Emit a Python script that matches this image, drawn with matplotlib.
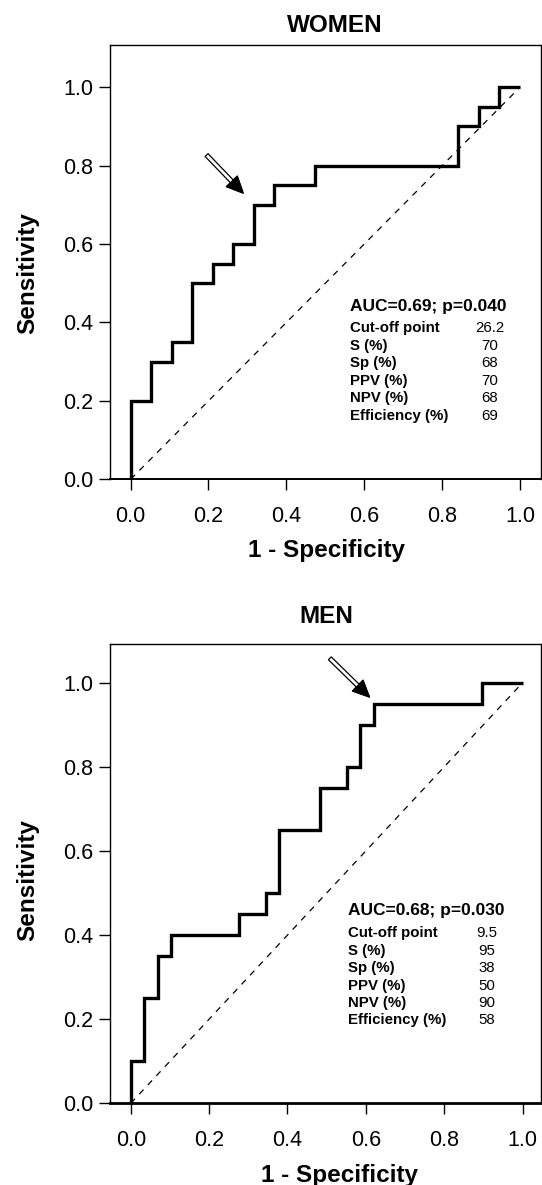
import matplotlib
matplotlib.use("Agg")
from matplotlib import pyplot as plt
import numpy as np

plt.rcParams['font.family'] = ['Liberation Sans', 'DejaVu Sans']

# ROC step points (1 - specificity, sensitivity)
women_fpr = [0, 0, 0.053, 0.105, 0.158, 0.211, 0.263, 0.316, 0.368, 0.474, 0.842, 0.895, 0.947, 1.0]
women_tpr = [0, 0.2, 0.3, 0.35, 0.5, 0.55, 0.6, 0.7, 0.75, 0.8, 0.9, 0.95, 1.0, 1.0]
men_fpr = [0, 0, 0.034, 0.069, 0.103, 0.276, 0.345, 0.379, 0.483, 0.552, 0.586, 0.621, 0.897, 1.0]
men_tpr = [0, 0.1, 0.25, 0.35, 0.4, 0.45, 0.5, 0.65, 0.75, 0.8, 0.9, 0.95, 1.0, 1.0]

# arrow (tail, tip) pointing at the cut-off point
women_arrow = [(0.195, 0.827), (0.289, 0.730)]
men_arrow = [(0.508, 1.058), (0.609, 0.966)]

row_labels = ['Cut-off point', 'S (%)', 'Sp (%)', 'PPV (%)', 'NPV (%)', 'Efficiency (%)']
women_auc = 'AUC=0.69; p=0.040'
women_vals = ['26.2', '70', '68', '70', '68', '69']
men_auc = 'AUC=0.68; p=0.030'
men_vals = ['9.5', '95', '38', '50', '90', '58']

ticks = [0.0, 0.2, 0.4, 0.6, 0.8, 1.0]
tick_labels = ['0.0', '0.2', '0.4', '0.6', '0.8', '1.0']

W, H = 542, 1185
fig = plt.figure(figsize=(W / 100, H / 100), dpi=100)


def px_axes(left, right, top, bottom):
    return fig.add_axes([left / W, 1 - bottom / H, (right - left) / W, (bottom - top) / H])


def draw_arrow(ax, arrow):
    tail, tip = arrow
    ax.annotate('', xy=tip, xytext=tail,
                arrowprops=dict(arrowstyle='simple,head_length=1.3,head_width=1.2,tail_width=0.32',
                                fc='white', ec='black', lw=0.9, mutation_scale=9,
                                shrinkA=0, shrinkB=0))
    # solid black head on top
    d = np.array(tip) - np.array(tail)
    base = np.array(tip) - d * 0.25
    ax.annotate('', xy=tip, xytext=tuple(base),
                arrowprops=dict(arrowstyle='simple,head_length=1.3,head_width=1.2,tail_width=0.01',
                                fc='black', ec='black', lw=0.9, mutation_scale=9,
                                shrinkA=0, shrinkB=0))


def roc_panel(ax, fpr, tpr, xlim, ylim, arrow, auc, vals, tx, ty, vx, dy, bottom_lw):
    ax.plot([0, 1], [0, 1], color='black', lw=0.9, dashes=(5, 5))
    ax.plot(fpr, tpr, drawstyle='steps-post', color='black', lw=2.4,
            solid_joinstyle='miter', solid_capstyle='butt', clip_on=False)
    draw_arrow(ax, arrow)
    ax.text(tx, ty, auc, fontsize=12.5, fontweight='bold', va='center', ha='left')
    for i, (lab, v) in enumerate(zip(row_labels, vals)):
        y = ty - 0.055 - dy * i
        ax.text(tx, y, lab, fontsize=10.8, fontweight='bold', va='center', ha='left')
        ax.text(vx, y, v, fontsize=10.8, va='center', ha='center')
    ax.set_xlim(*xlim)
    ax.set_ylim(*ylim)
    ax.set_xticks(ticks)
    ax.set_xticklabels(tick_labels)
    ax.set_yticks(ticks)
    ax.set_yticklabels(tick_labels)
    ax.tick_params(axis='x', direction='out', length=8, width=1, pad=11, labelsize=15.5)
    ax.tick_params(axis='y', direction='out', length=8, width=1, pad=4, labelsize=15.5)
    for s in ['left', 'right', 'top']:
        ax.spines[s].set_linewidth(1.0)
    ax.spines['bottom'].set_linewidth(bottom_lw)


ax1 = px_axes(109.6, 541, 44.9, 479.3)
roc_panel(ax1, women_fpr, women_tpr, (-0.054, 1.054), (0, 1.108), women_arrow,
          women_auc, women_vals, 0.563, 0.441, 0.922, 0.0449, 1.4)

ax2 = px_axes(109.6, 541, 644, 1103.3)
roc_panel(ax2, men_fpr, men_tpr, (-0.054, 1.047), (0, 1.092), men_arrow,
          men_auc, men_vals, 0.554, 0.459, 0.909, 0.0414, 2.0)

# titles and axis labels
fig.text(334.6 / W, 1 - 26 / H, 'WOMEN', fontsize=17.5, fontweight='bold', ha='center', va='center')
fig.text(326.6 / W, 1 - 616.3 / H, 'MEN', fontsize=17.5, fontweight='bold', ha='center', va='center')
fig.text(326.7 / W, 1 - 550.6 / H, '1 - Specificity', fontsize=17.5, fontweight='bold', ha='center', va='center')
fig.text(339.6 / W, 1 - 1175.8 / H, '1 - Specificity', fontsize=17.5, fontweight='bold', ha='center', va='center')
fig.text(28 / W, 1 - 273 / H, 'Sensitivity', fontsize=17.5, fontweight='bold', ha='center', va='center', rotation=90)
fig.text(28 / W, 1 - 880 / H, 'Sensitivity', fontsize=17.5, fontweight='bold', ha='center', va='center', rotation=90)

fig.savefig('out.png', dpi=100)
